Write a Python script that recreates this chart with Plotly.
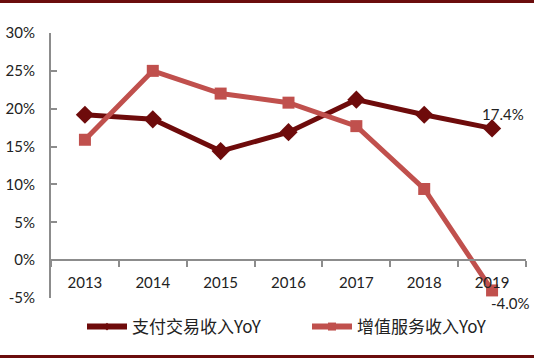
import plotly.graph_objects as go

years = [2013, 2014, 2015, 2016, 2017, 2018, 2019]
pay_yoy = [19.2, 18.6, 14.4, 16.9, 21.2, 19.2, 17.4]
vas_yoy = [15.9, 25.0, 22.0, 20.8, 17.7, 9.4, -4.0]
y_ticks = [-5, 0, 5, 10, 15, 20, 25, 30]
y_labels = [f"{v}%" for v in y_ticks]
names = ["支付交易收入YoY", "增值服务收入YoY"]

c1 = "#6e0b0b"
c2 = "#c0504d"
axis_c = "#8c8c8c"
font_num = "Lato, 'Liberation Sans', sans-serif"
font_cn = "'Noto Sans CJK SC', sans-serif"

XR = [2012.5, 2019.5]
YR = [-5, 30]

fig = go.Figure()
fig.add_trace(go.Scatter(x=years, y=pay_yoy, name=names[0], mode="lines+markers",
                         legendgroup="a", showlegend=False,
                         line=dict(color=c1, width=5),
                         marker=dict(symbol="diamond", size=14, color=c1)))
fig.add_trace(go.Scatter(x=years, y=vas_yoy, name=names[1], mode="lines+markers",
                         legendgroup="b", showlegend=False,
                         line=dict(color=c2, width=5),
                         marker=dict(symbol="square", size=12, color=c2)))
# legend entries (smaller markers, as in the reference legend)
fig.add_trace(go.Scatter(x=[None], y=[None], name=names[0], mode="lines+markers",
                         legendgroup="a", line=dict(color=c1, width=6),
                         marker=dict(symbol="diamond", size=6, color=c1)))
fig.add_trace(go.Scatter(x=[None], y=[None], name=names[1], mode="lines+markers",
                         legendgroup="b", line=dict(color=c2, width=6),
                         marker=dict(symbol="square", size=8, color=c2)))

def xp(v):
    return (v - XR[0]) / (XR[1] - XR[0])
def yp(v):
    return (v - YR[0]) / (YR[1] - YR[0])

fig.add_annotation(x=xp(years[-1]), y=yp(pay_yoy[-1]), xref="paper", yref="paper",
                   text=f"{pay_yoy[-1]:.1f}%", xanchor="left", yanchor="middle",
                   showarrow=False, xshift=-12, yshift=14,
                   font=dict(family=font_num, size=15, color="#222"))
fig.add_annotation(x=xp(years[-1]), y=yp(vas_yoy[-1]), xref="paper", yref="paper",
                   text=f"{vas_yoy[-1]:.1f}%", xanchor="left", yanchor="middle",
                   showarrow=False, xshift=-3, yshift=-13,
                   font=dict(family=font_num, size=15, color="#222"))

# frame lines top/bottom
L, R, T, B = 51, 8, 33, 64
W, H = 534, 362
ph = H - T - B
pw = W - L - R
def py(p):
    return (H - B - p) / ph
def px(p):
    return (p - L) / pw
for p in (1.5, 356.5):
    fig.add_shape(type="line", xref="paper", yref="paper", x0=px(0), x1=px(W), y0=py(p), y1=py(p),
                  line=dict(color="#6b0d0d", width=3))

fig.update_layout(
    width=W, height=H,
    margin=dict(l=L, r=R, t=T, b=B, autoexpand=False),
    paper_bgcolor="white", plot_bgcolor="white",
    showlegend=True,
    legend=dict(orientation="h", x=px(82), xanchor="left", y=py(327), yanchor="middle",
                font=dict(family=font_cn, size=17, color="#222"),
                entrywidth=170, entrywidthmode="pixels", itemwidth=40,
                bgcolor="rgba(0,0,0,0)"),
    xaxis=dict(range=XR, tick0=2013, dtick=1,
               anchor="free", position=yp(0),
               showline=True, linecolor=axis_c, linewidth=2,
               ticks="", showgrid=False, zeroline=False, ticklabelstandoff=9,
               minor=dict(tick0=2012.5, dtick=1, ticks="outside", ticklen=6,
                          tickwidth=2, tickcolor=axis_c, showgrid=False),
               tickfont=dict(family=font_num, size=15, color="#222")),
    yaxis=dict(range=YR, tickvals=y_ticks, ticktext=y_labels,
               showline=True, linecolor=axis_c, linewidth=2,
               ticks="inside", ticklen=6, tickwidth=2, tickcolor=axis_c,
               showgrid=False, zeroline=False, ticklabelstandoff=11,
               tickfont=dict(family=font_num, size=15, color="#222")),
)

fig.write_html("out.html", config={"displayModeBar": False},
               post_script="document.body.style.margin='0';document.body.style.overflow='hidden';")
